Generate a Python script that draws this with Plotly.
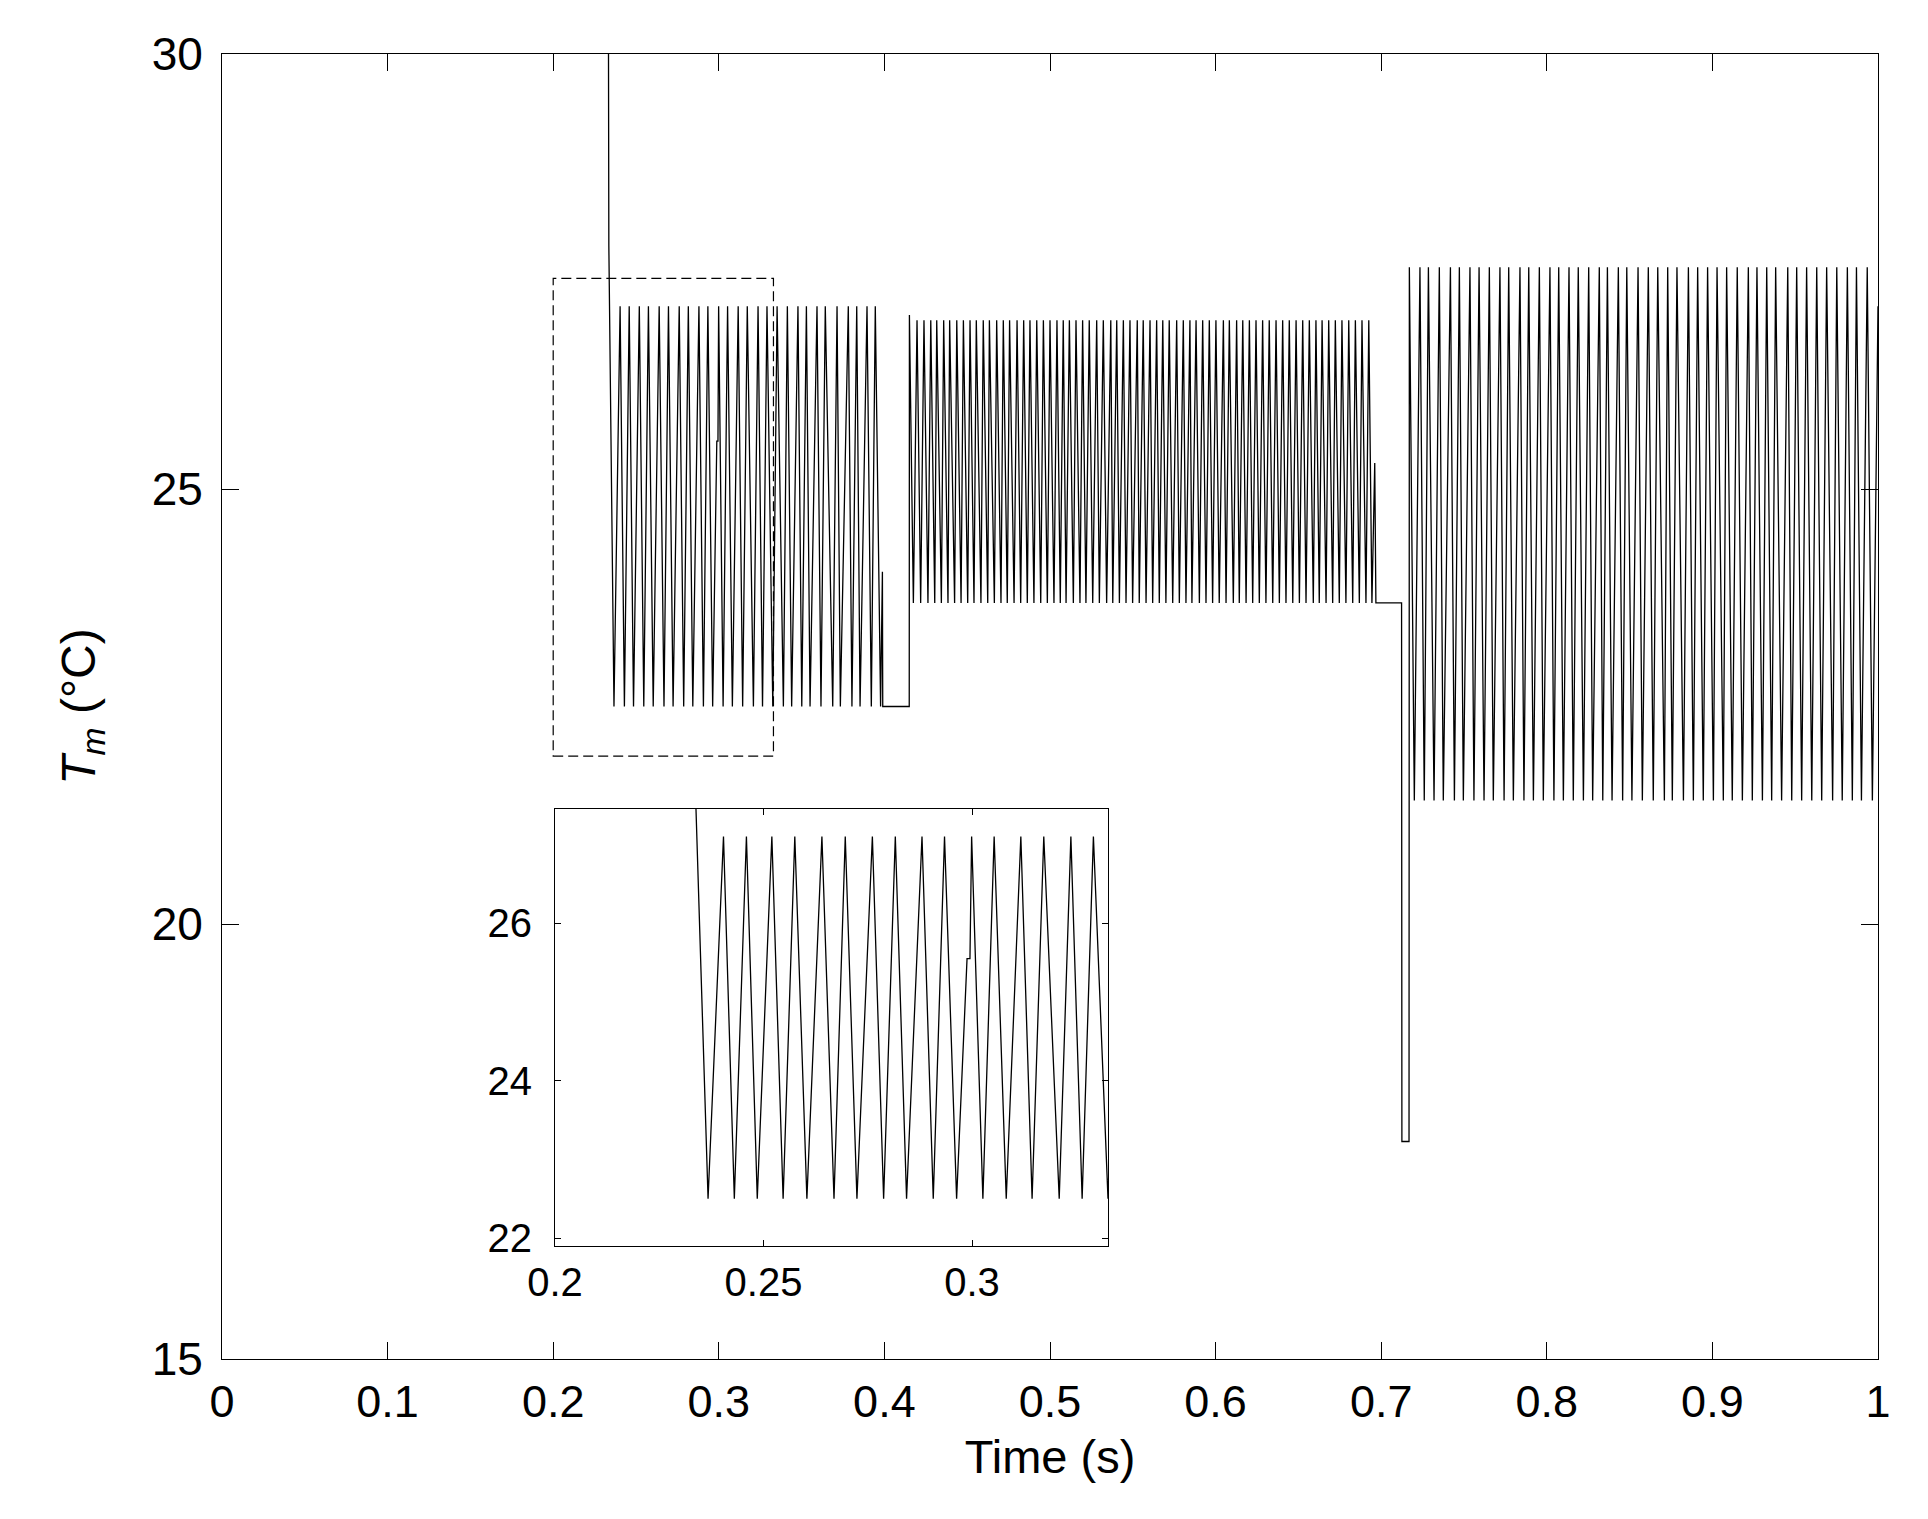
import plotly.graph_objects as go

# ---------------- data ----------------
# Segment 1: triangular oscillation, 0.233 s .. 0.399 s
seg1_peak_t = [0.2404, 0.2459, 0.2520, 0.2575, 0.2640, 0.2696, 0.2761, 0.2816, 0.2880,
               0.2934, 0.2999, 0.3053, 0.3117, 0.3172, 0.3237, 0.3291, 0.3352, 0.3414,
               0.3478, 0.3529, 0.3593, 0.3643, 0.3714, 0.3782, 0.3833, 0.3895, 0.3945]
seg1_trough_t = [0.2367, 0.2430, 0.2485, 0.2547, 0.2604, 0.2669, 0.2724, 0.2788, 0.2843,
                 0.2907, 0.2963, 0.3026, 0.3082, 0.3144, 0.3209, 0.3264, 0.3326, 0.3390,
                 0.3440, 0.3501, 0.3551, 0.3617, 0.3688, 0.3734, 0.3804, 0.3853, 0.3921,
                 0.3977]
seg1_max = 27.1
seg1_min = 22.5

# Segment 2: faster oscillation, 0.415 s .. 0.696 s
seg2_peak_t = [0.4197, 0.4239, 0.4280, 0.4316, 0.4358, 0.4394, 0.4437, 0.4477, 0.4517,
               0.4555, 0.4597, 0.4634, 0.4678, 0.4718, 0.4756, 0.4801, 0.4841, 0.4879,
               0.4920, 0.4960, 0.5000, 0.5042, 0.5080, 0.5117, 0.5157, 0.5197, 0.5237,
               0.5282, 0.5322, 0.5367, 0.5403, 0.5443, 0.5483, 0.5527, 0.5563, 0.5604,
               0.5644, 0.5681, 0.5720, 0.5765, 0.5805, 0.5845, 0.5882, 0.5922, 0.5962,
               0.6002, 0.6047, 0.6083, 0.6127, 0.6164, 0.6204, 0.6244, 0.6284, 0.6324,
               0.6365, 0.6405, 0.6445, 0.6486, 0.6526, 0.6566, 0.6606, 0.6643, 0.6683,
               0.6723, 0.6763, 0.6804, 0.6844, 0.6884, 0.6925]
seg2_trough_t = [0.4175, 0.4219, 0.4263, 0.4304, 0.4344, 0.4384, 0.4424, 0.4463, 0.4503,
                 0.4541, 0.4583, 0.4624, 0.4664, 0.4704, 0.4742, 0.4783, 0.4823, 0.4863,
                 0.4903, 0.4944, 0.4984, 0.5024, 0.5062, 0.5097, 0.5141, 0.5181, 0.5217,
                 0.5258, 0.5298, 0.5342, 0.5379, 0.5419, 0.5459, 0.5499, 0.5539, 0.5580,
                 0.5620, 0.5660, 0.5700, 0.5741, 0.5781, 0.5821, 0.5857, 0.5902, 0.5942,
                 0.5982, 0.6022, 0.6063, 0.6107, 0.6143, 0.6184, 0.6224, 0.6264, 0.6304,
                 0.6345, 0.6385, 0.6425, 0.6466, 0.6506, 0.6546, 0.6590, 0.6626, 0.6667,
                 0.6707, 0.6747, 0.6787, 0.6828, 0.6868, 0.6908, 0.6944]
seg2_max = 26.94
seg2_min = 23.69

# Segment 3: wide oscillation, 0.717 s .. 1 s
seg3_peak_t = [0.7234, 0.7285, 0.7351, 0.7418, 0.7472, 0.7536, 0.7591, 0.7653, 0.7717,
               0.7770, 0.7838, 0.7891, 0.7955, 0.8019, 0.8072, 0.8134, 0.8190, 0.8253,
               0.8317, 0.8366, 0.8432, 0.8483, 0.8551, 0.8613, 0.8670, 0.8730, 0.8786,
               0.8855, 0.8911, 0.8971, 0.9028, 0.9086, 0.9150, 0.9217, 0.9269, 0.9328,
               0.9382, 0.9455, 0.9509, 0.9569, 0.9630, 0.9690, 0.9751, 0.9815, 0.9870,
               0.9935]
seg3_trough_t = [0.7200, 0.7260, 0.7319, 0.7375, 0.7442, 0.7496, 0.7560, 0.7621, 0.7677,
                 0.7742, 0.7798, 0.7862, 0.7919, 0.7979, 0.8043, 0.8100, 0.8160, 0.8221,
                 0.8277, 0.8338, 0.8394, 0.8458, 0.8514, 0.8577, 0.8643, 0.8710, 0.8758,
                 0.8825, 0.8885, 0.8945, 0.9006, 0.9066, 0.9120, 0.9181, 0.9241, 0.9302,
                 0.9358, 0.9418, 0.9479, 0.9539, 0.9600, 0.9660, 0.9726, 0.9784, 0.9845,
                 0.9900, 0.9966]
seg3_max = 27.55
seg3_min = 21.42

# Isolated vertices (transitions and small steps)
extra_t = [0.2333, 0.2336, 0.2988, 0.2995, 0.3988, 0.3990, 0.4150, 0.4151,
           0.6961, 0.6968, 0.7123, 0.7125, 0.7168, 0.7170, 1.0]
extra_v = [31.0, 27.8, 25.55, 25.55, 24.05, 22.5, 22.5, 27.0,
           25.3, 23.69, 23.69, 17.5, 17.5, 27.55, 27.1]

x_ticks = [0, 0.1, 0.2, 0.3, 0.4, 0.5, 0.6, 0.7, 0.8, 0.9, 1]
x_tick_text = ["0", "0.1", "0.2", "0.3", "0.4", "0.5", "0.6", "0.7", "0.8", "0.9", "1"]
y_ticks = [15, 20, 25, 30]
inset_x_ticks = [0.2, 0.25, 0.3]
inset_x_text = ["0.2", "0.25", "0.3"]
inset_y_ticks = [22, 24, 26]
zoom_box_t = [0.2, 0.333]
zoom_box_v = [21.93, 27.42]

# ---------------- build polyline ----------------
pts = []
for t in seg1_peak_t:
    pts.append((t, seg1_max))
for t in seg1_trough_t:
    pts.append((t, seg1_min))
for t in seg2_peak_t:
    pts.append((t, seg2_max))
for t in seg2_trough_t:
    pts.append((t, seg2_min))
for t in seg3_peak_t:
    pts.append((t, seg3_max))
for t in seg3_trough_t:
    pts.append((t, seg3_min))
for t, v in zip(extra_t, extra_v):
    pts.append((t, v))
pts.sort(key=lambda p: p[0])
T = [p[0] for p in pts]
V = [p[1] for p in pts]

FONT = "Liberation Sans, Arial, sans-serif"
W, H = 1928, 1519
OFF = 8  # page body margin compensation (px)

fig = go.Figure()
line = dict(color="black", width=1.3)
fig.add_trace(go.Scatter(x=T, y=V, mode="lines", line=line, xaxis="x", yaxis="y",
                         showlegend=False, hoverinfo="skip"))
fig.add_trace(go.Scatter(x=T, y=V, mode="lines", line=line, xaxis="x2", yaxis="y2",
                         showlegend=False, hoverinfo="skip"))

main_dom_x = [(222 - OFF) / W, (1878 - OFF) / W]
main_dom_y = [1 - (1359 - OFF) / H, 1 - (54 - OFF) / H]
ins_dom_x = [(555 - OFF) / W, (1108 - OFF) / W]
ins_dom_y = [1 - (1246 - OFF) / H, 1 - (809 - OFF) / H]

axis_common = dict(showline=True, linecolor="black", linewidth=1, mirror="ticks",
                   ticks="inside", tickcolor="black", tickwidth=1,
                   showgrid=False, zeroline=False, automargin=False)

fig.update_layout(
    width=W, height=H,
    margin=dict(l=0, r=0, t=0, b=0, autoexpand=False),
    paper_bgcolor="white", plot_bgcolor="white",
    font=dict(family=FONT, color="black"),
    xaxis=dict(domain=main_dom_x, range=[0, 1], anchor="y",
               tickvals=x_ticks, ticktext=x_tick_text, ticklen=17,
               tickfont=dict(size=45, family=FONT), ticklabelstandoff=3,
               title=dict(text="Time (s)", font=dict(size=47, family=FONT), standoff=14),
               **axis_common),
    yaxis=dict(domain=main_dom_y, range=[15, 30], anchor="x",
               tickvals=y_ticks, ticklen=17,
               tickfont=dict(size=46, family=FONT), ticklabelstandoff=9,
               title=dict(text="<i>T</i><sub><i>m</i></sub> (°C)",
                          font=dict(size=48, family=FONT), standoff=40),
               **axis_common),
    xaxis2=dict(domain=ins_dom_x, range=[0.2, 0.3326], anchor="y2",
                tickvals=inset_x_ticks, ticktext=inset_x_text, ticklen=6,
                tickfont=dict(size=40, family=FONT), ticklabelstandoff=1,
                **axis_common),
    yaxis2=dict(domain=ins_dom_y, range=[21.9, 27.45], anchor="x2",
                tickvals=inset_y_ticks, ticklen=6,
                tickfont=dict(size=40, family=FONT), ticklabelstandoff=14,
                **axis_common),
)

# dashed zoom box in main axes
fig.add_shape(type="rect", xref="x", yref="y",
              x0=zoom_box_t[0], x1=zoom_box_t[1], y0=zoom_box_v[0], y1=zoom_box_v[1],
              line=dict(color="black", width=1.2, dash="10px,5px"))

fig.write_html("out.html")
